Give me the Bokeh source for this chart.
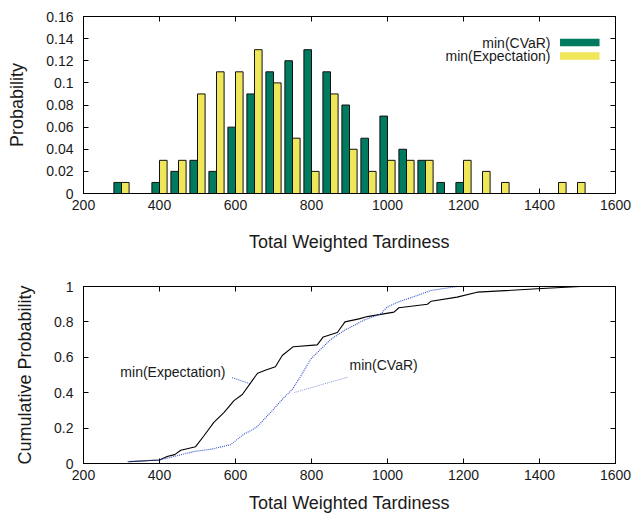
from bokeh.plotting import figure
from bokeh.layouts import column
from bokeh.models import FixedTicker, LinearAxis, Label, BoxAnnotation, Arrow, Range1d, ColumnDataSource
from bokeh.transform import dodge
from bokeh.embed import file_html
from bokeh.resources import INLINE

# ---------------- data ----------------
bin_centers = [300, 350, 400, 450, 500, 550, 600, 650, 700, 750, 800, 850, 900,
               950, 1000, 1050, 1100, 1150, 1200, 1250, 1300, 1350, 1400, 1450, 1500]
prob_cvar = [0.01, 0.00, 0.01, 0.02, 0.03, 0.02, 0.06, 0.09, 0.11, 0.12, 0.13, 0.11, 0.08,
             0.05, 0.07, 0.04, 0.03, 0.01, 0.01, 0.00, 0.00, 0.00, 0.00, 0.00, 0.00]
prob_exp = [0.01, 0.00, 0.03, 0.03, 0.09, 0.11, 0.11, 0.13, 0.10, 0.05, 0.02, 0.09, 0.04,
            0.02, 0.03, 0.03, 0.03, 0.00, 0.03, 0.02, 0.01, 0.00, 0.00, 0.01, 0.01]

cdf_exp_x = [318, 400, 420, 440, 456, 495, 517, 543, 570, 596, 618, 644, 658, 680, 705,
             723, 752, 815, 831, 868, 888, 925, 947, 1017, 1030, 1105, 1115, 1183, 1236, 1394, 1508]
cdf_exp_y = [0.01, 0.02, 0.04, 0.05, 0.075, 0.095, 0.157, 0.232, 0.289, 0.355, 0.39, 0.468, 0.51,
             0.528, 0.547, 0.61, 0.66, 0.67, 0.715, 0.74, 0.80, 0.817, 0.83, 0.855, 0.88, 0.90,
             0.917, 0.94, 0.968, 0.987, 1.0]

cdf_cvar_x = [316, 400, 440, 491, 534, 587, 622, 640, 657, 684, 701, 728, 750, 772, 798,
              824, 850, 885, 938, 982, 999, 1026, 1078, 1113, 1183]
cdf_cvar_y = [0.011, 0.02, 0.04, 0.068, 0.08, 0.106, 0.166, 0.185, 0.208, 0.27, 0.308, 0.374,
              0.42, 0.495, 0.59, 0.645, 0.70, 0.75, 0.81, 0.845, 0.883, 0.911, 0.949, 0.977, 1.0]

x_ticks = [200, 400, 600, 800, 1000, 1200, 1400, 1600]
prob_ticks = [0, 0.02, 0.04, 0.06, 0.08, 0.1, 0.12, 0.14, 0.16]
cum_ticks = [0, 0.2, 0.4, 0.6, 0.8, 1]

series_names = ["min(CVaR)", "min(Expectation)"]

# ---------------- styles ----------------
GREEN = "#007B5F"
YELLOW = "#F0E65A"
BLUE = "#3050C8"
FONT = "Liberation Sans"
TXT = "#1a1a1a"


def style_axis(ax, ticks, labels=True, label_text=None, label_standoff=16, tick_standoff=6):
    ax.ticker = FixedTicker(ticks=ticks)
    ax.major_tick_in = 5
    ax.major_tick_out = 0
    ax.minor_tick_line_color = None
    ax.axis_line_color = "black"
    ax.major_tick_line_color = "black"
    ax.axis_line_width = 1
    if labels:
        ax.major_label_overrides = {t: f"{t:g}" for t in ticks}
        ax.major_label_text_font = FONT
        ax.major_label_text_font_size = "14px"
        ax.major_label_text_color = TXT
        ax.major_label_standoff = tick_standoff
    else:
        ax.major_label_text_font_size = "0px"
        ax.major_label_text_color = None
        ax.major_label_standoff = 0
    if label_text:
        ax.axis_label = label_text
        ax.axis_label_text_font = FONT
        ax.axis_label_text_font_size = "18px"
        ax.axis_label_text_font_style = "normal"
        ax.axis_label_text_color = TXT
        ax.axis_label_standoff = label_standoff


def make_fig(height, yr, border_top, border_bottom):
    p = figure(width=634, height=height, x_range=Range1d(200, 1600), y_range=Range1d(*yr),
               output_backend="svg", toolbar_location=None,
               min_border_left=83, min_border_right=19,
               min_border_top=border_top, min_border_bottom=border_bottom)
    p.xgrid.visible = False
    p.ygrid.visible = False
    p.outline_line_color = "black"
    p.background_fill_color = "white"
    return p


# ---------------- top: histogram ----------------
p1 = make_fig(266, (0, 0.16), 16, 73)
src = ColumnDataSource(dict(x=bin_centers, cvar=prob_cvar, exp=prob_exp))
p1.vbar(x=dodge("x", -10, range=p1.x_range), top="cvar", width=20, bottom=0, source=src,
        fill_color=GREEN, line_color="#111111", line_width=1)
p1.vbar(x=dodge("x", 10, range=p1.x_range), top="exp", width=20, bottom=0, source=src,
        fill_color=YELLOW, line_color="#111111", line_width=1)

style_axis(p1.xaxis[0], x_ticks, label_text="Total Weighted Tardiness", label_standoff=19)
style_axis(p1.yaxis[0], prob_ticks, label_text="Probability", label_standoff=16, tick_standoff=10)
ax_top = LinearAxis()
style_axis(ax_top, x_ticks, labels=False)
p1.add_layout(ax_top, "above")
ax_right = LinearAxis()
style_axis(ax_right, prob_ticks, labels=False)
p1.add_layout(ax_right, "right")

# legend (gnuplot style: text then swatch)
for name, color, ty, b, t in [(series_names[0], GREEN, 0.1364, 0.1331, 0.1398),
                              (series_names[1], YELLOW, 0.1242, 0.1208, 0.1277)]:
    p1.add_layout(Label(x=1429, y=ty, text=name, text_align="right", text_baseline="middle",
                        text_font=FONT, text_font_size="14px", text_color=TXT))
    p1.add_layout(BoxAnnotation(left=1454, right=1558, bottom=b, top=t,
                                fill_color=color, fill_alpha=1, line_color=None))

# ---------------- bottom: CDF ----------------
p2 = make_fig(253, (0, 1), 20, 56)
p2.line(cdf_exp_x, cdf_exp_y, line_color="black", line_width=1.1)
p2.line(cdf_cvar_x, cdf_cvar_y, line_color=BLUE, line_width=1.1, line_dash="1 1")

style_axis(p2.xaxis[0], x_ticks, label_text="Total Weighted Tardiness", label_standoff=10)
style_axis(p2.yaxis[0], cum_ticks, label_text="Cumulative Probability", label_standoff=16, tick_standoff=10)
ax_top2 = LinearAxis()
style_axis(ax_top2, x_ticks, labels=False)
p2.add_layout(ax_top2, "above")
ax_right2 = LinearAxis()
style_axis(ax_right2, cum_ticks, labels=False)
p2.add_layout(ax_right2, "right")

p2.add_layout(Label(x=297, y=0.515, text=series_names[1], text_align="left", text_baseline="middle",
                    text_font=FONT, text_font_size="14px", text_color=TXT))
p2.add_layout(Arrow(end=None, x_start=591, y_start=0.485, x_end=639, y_end=0.45,
                    line_color=BLUE, line_dash="1 1", line_width=1))
p2.add_layout(Label(x=900, y=0.557, text=series_names[0], text_align="left", text_baseline="middle",
                    text_font=FONT, text_font_size="14px", text_color=TXT))
p2.add_layout(Arrow(end=None, x_start=894, y_start=0.487, x_end=753, y_end=0.40,
                    line_color="#8899DD", line_dash="1 1", line_width=1))

layout = column(p1, p2, spacing=0)
open("out.html", "w").write(file_html(layout, INLINE))
